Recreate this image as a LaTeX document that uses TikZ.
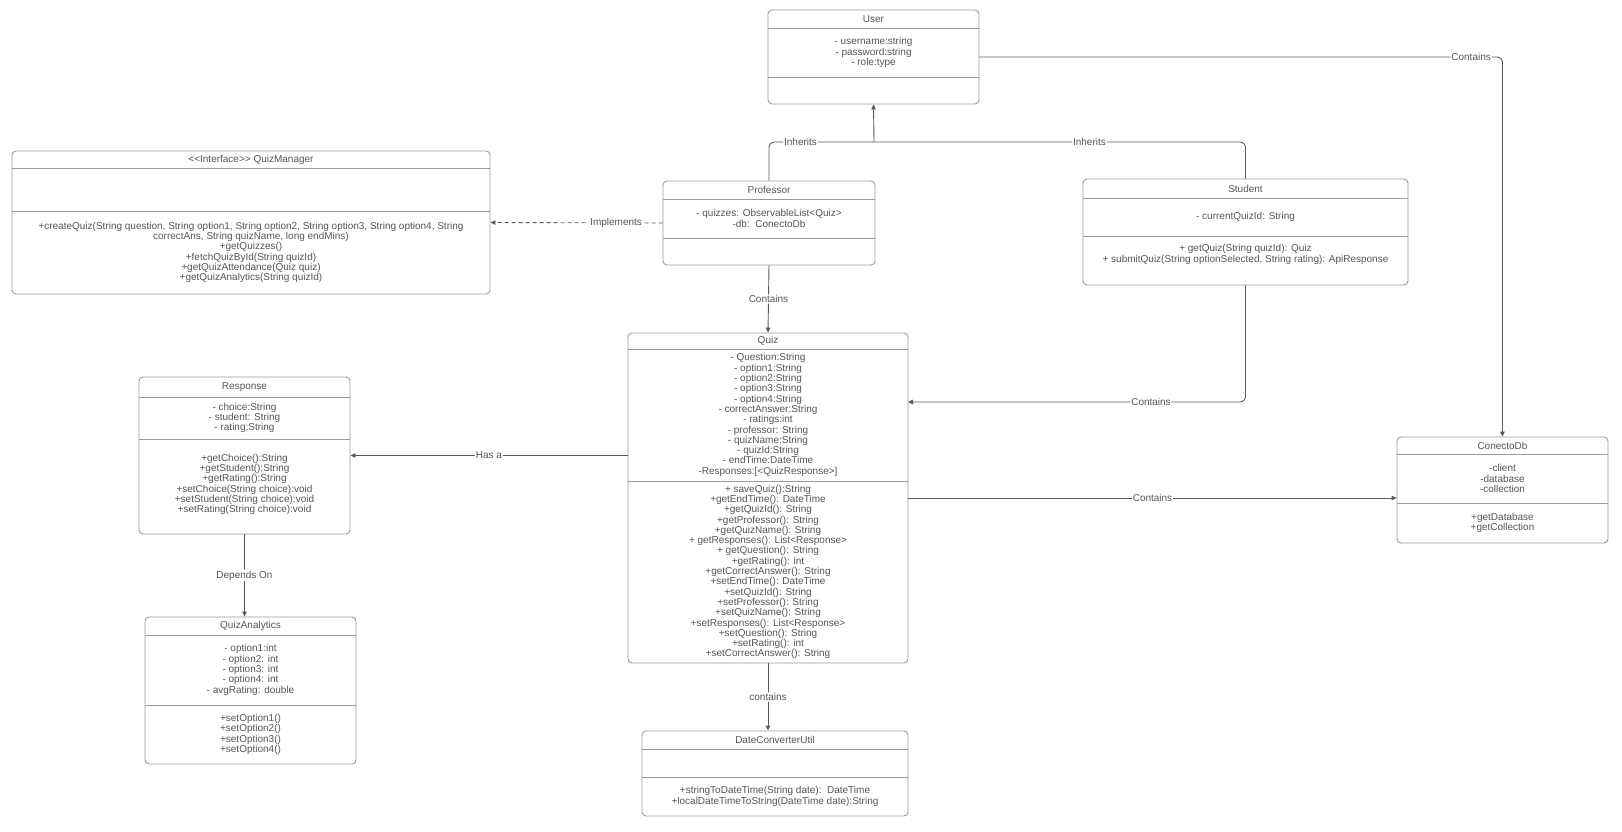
\documentclass[tikz,border=0pt]{standalone}
\usepackage{fontspec}
\setmainfont{Liberation Sans}
\usetikzlibrary{arrows.meta,fit}
\definecolor{boxc}{HTML}{9A9AA2}
\definecolor{txtc}{HTML}{555555}
\definecolor{linec}{HTML}{5A5A5A}
\tikzset{
  classbox/.style={draw=boxc, line width=0.9pt, rounded corners=4pt, inner sep=0pt},
  divider/.style={draw=boxc, line width=0.9pt},
  txt/.style={text=txtc, font=\fontsize{10}{10.3}\selectfont, align=center, inner sep=0pt},
  conn/.style={draw=linec, line width=0.9pt, rounded corners=5pt},
  arr/.style={conn, -{Triangle[length=5pt,width=4.5pt]}},
  lbl/.style={fill=white, text=txtc, font=\fontsize{10}{10}\selectfont, inner sep=1pt},
}
\newcommand{\umlclass}[9]{%
  \node[classbox, fit={(#2,#4) (#3,#7)}] (#1) {};
  \draw[divider] (#2,#5) -- (#3,#5);
  \draw[divider] (#2,#6) -- (#3,#6);
  \node[txt] (#1-title) at ({(#2+#3)/2},{(#4+#5)/2}) {#8};
  \node[txt] (#1-attrs) at ({(#2+#3)/2},{(#5+#6)/2}) {#9};
  \coordinate (#1-m) at ({(#2+#3)/2},{(#6+#7)/2});
}
\begin{document}
\begin{tikzpicture}[x=1pt,y=-1pt]
\path[fill=white] (0,0) rectangle (1622,831);
\useasboundingbox (0,0) rectangle (1622,831);

\umlclass{user}{768}{979}{10}{28}{77}{104}{User}{- username:string\\- password:string\\- role:type}

\umlclass{qm}{12}{490}{151}{168}{211}{294}{{<}{<}Interface{>}{>} QuizManager}{}
\node[txt] (qm-methods) at (qm-m) {+createQuiz(String question, String option1, String option2, String option3, String option4, String\\correctAns, String quizName, long endMins)\\+getQuizzes()\\+fetchQuizById(String quizId)\\+getQuizAttendance(Quiz quiz)\\+getQuizAnalytics(String quizId)};

\umlclass{prof}{663}{875}{181}{199}{238}{265}{Professor}{- quizzes: ObservableList{<}Quiz{>}\\-db:\ \ ConectoDb}

\umlclass{student}{1083}{1408}{179}{198}{236}{285}{Student}{\raisebox{-7pt}{- currentQuizId: String}}
\node[txt, yshift=6pt] (student-methods) at (student-m) {+ getQuiz(String quizId): Quiz\\+ submitQuiz(String optionSelected, String rating): ApiResponse};

\umlclass{quiz}{628}{908}{333}{349}{481}{663}{Quiz}{- Question:String\\- option1:String\\- option2:String\\- option3:String\\- option4:String\\- correctAnswer:String\\- ratings:int\\- professor: String\\- quizName:String\\- quizId:String\\- endTime:DateTime\\-Responses:[{<}QuizResponse{>}]}
\node[txt] (quiz-methods) at (quiz-m) {+ saveQuiz():String\\+getEndTime(): DateTime\\+getQuizId(): String\\+getProfessor(): String\\+getQuizName(): String\\+ getResponses(): List{<}Response{>}\\+ getQuestion(): String\\+getRating(): int\\+getCorrectAnswer(): String\\+setEndTime(): DateTime\\+setQuizId(): String\\+setProfessor(): String\\+setQuizName(): String\\+setResponses(): List{<}Response{>}\\+setQuestion(): String\\+setRating(): int\\+setCorrectAnswer(): String};

\umlclass{resp}{139}{350}{377}{397}{439}{534}{Response}{- choice:String\\- student: String\\- rating:String}
\node[txt, yshift=2pt] (resp-methods) at (resp-m) {+getChoice():String\\+getStudent():String\\+getRating():String\\+setChoice(String choice):void\\+setStudent(String choice):void\\+setRating(String choice):void};

\umlclass{qa}{145}{356}{617}{635}{705}{764}{QuizAnalytics}{- option1:int\\- option2: int\\- option3: int\\- option4: int\\- avgRating: double}
\node[txt] (qa-methods) at (qa-m) {+setOption1()\\+setOption2()\\+setOption3()\\+setOption4()};

\umlclass{dcu}{642}{908}{731}{749}{777}{816}{DateConverterUtil}{}
\node[txt] (dcu-methods) at (dcu-m) {+stringToDateTime(String date):\ \ DateTime\\+localDateTimeToString(DateTime date):String};

\umlclass{db}{1397}{1608}{437}{454}{503}{543}{ConectoDb}{-client\\-database\\-collection}
\node[txt] (db-methods) at (db-m) {+getDatabase\\+getCollection};

% connectors
\coordinate (inh) at (874,142);
\draw[conn] (prof.north) |- node[lbl, pos=0.65] {Inherits} (inh);
\draw[conn] (student.north) |- node[lbl, pos=0.71] {Inherits} (inh);
\draw[arr] (inh) -- (user.south);
\draw[arr] (user.east) -| node[lbl, pos=0.47] {Contains} (db.north);
\draw[arr, dashed, dash pattern=on 4pt off 3pt] (prof.west) -- node[lbl, pos=0.27] {Implements} (qm.east);
\draw[arr] (prof.south) -- node[lbl] {Contains} (quiz.north);
\coordinate (quizR) at (908,402);
\draw[arr] (student.south) |- node[lbl, pos=0.64] {Contains} (quizR);
\draw[arr] (resp.east -| quiz.west) -- node[lbl] {Has a} (resp.east);
\draw[arr] (quiz.east) -- node[lbl] {Contains} (quiz.east -| db.west);
\draw[arr] (resp.south) -- node[lbl] {Depends On} (resp.south |- qa.north);
\draw[arr] (quiz.south) -- node[lbl] {contains} (quiz.south |- dcu.north);
\end{tikzpicture}
\end{document}
